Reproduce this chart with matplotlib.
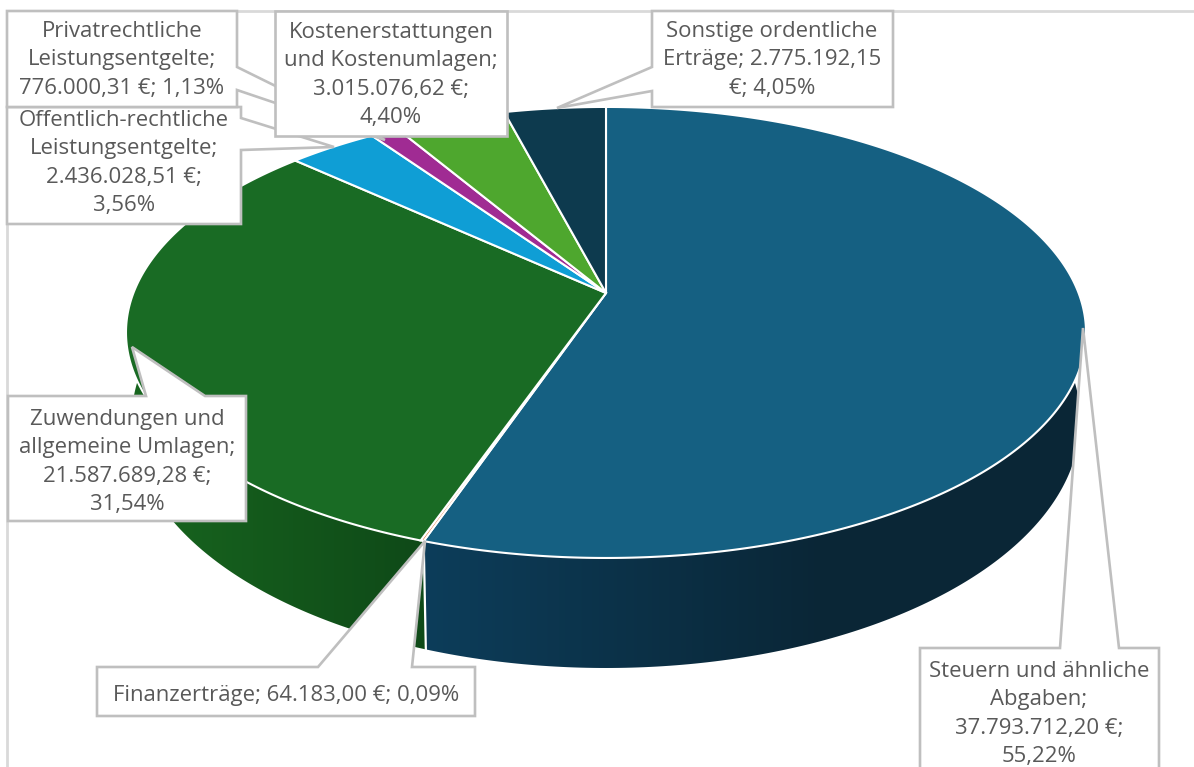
import numpy as np
import matplotlib
matplotlib.use("Agg")
import matplotlib.pyplot as plt
from matplotlib.colors import to_rgb
from matplotlib.patches import Polygon

# Werte aus dem Bild
names = ["Steuern", "Finanzerträge", "Zuwendungen", "Öffentlich-rechtlich",
         "Privatrechtlich", "Kostenerstattungen", "Sonstige"]
euros = [37793712.20, 64183.00, 21587689.28, 2436028.51, 776000.31, 3015076.62, 2775192.15]
top_colors = ["#156082", "#e97132", "#196b24", "#0f9ed5", "#a02b93", "#4ea72e", "#0d3a4e"]
labels = [
    "Steuern und ähnliche\nAbgaben;\n37.793.712,20 €;\n55,22%",
    "Finanzerträge; 64.183,00 €; 0,09%",
    "Zuwendungen und\nallgemeine Umlagen;\n21.587.689,28 €;\n31,54%",
    "Öffentlich-rechtliche\nLeistungsentgelte;\n2.436.028,51 €;\n3,56%",
    "Privatrechtliche\nLeistungsentgelte;\n776.000,31 €; 1,13%",
    "Kostenerstattungen\nund Kostenumlagen;\n3.015.076,62 €;\n4,40%",
    "Sonstige ordentliche\nErträge; 2.775.192,15\n€; 4,05%",
]

plt.rcParams["font.family"] = ["Open Sans", "DejaVu Sans"]
TEXT = "#595959"
LINE = "#bfbfbf"

fig = plt.figure(figsize=(11.94, 7.67), dpi=100)
ax = fig.add_axes([0, 0, 1, 1])

# perspektive der kreisscheibe
K = 0.175
CX = 606


def rim(theta, y0, a, b):
    u = np.sin(theta)
    v = np.cos(theta)
    w = 1 + K * v
    return CX + a * u / w, y0 - b * v / w


def top_rim(theta):
    return rim(theta, 293, 472.6, 218.6)


def bottom_rim(theta):
    return rim(theta, 376.6, 467, 240.4)


def gradient(c1, c2, x1, x2):
    # farbverlauf in x-richtung, links und rechts konstant
    t = np.clip((np.arange(1194) - x1) / (x2 - x1), 0, 1)[:, None]
    c1, c2 = np.array(to_rgb(c1)), np.array(to_rgb(c2))
    return (c1 + (c2 - c1) * t)[None, :, :]


shares = np.array(euros) / sum(euros)
edges = np.concatenate([[0], np.cumsum(shares)]) * 2 * np.pi

# seitenwand, nur der vordere teil ist zu sehen
walls = [
    (np.radians(70), edges[1], gradient("#0d3d5a", "#0a2636", 425, 825)),
    (edges[1], np.radians(290), gradient("#18661f", "#0f4a18", 130, 415)),
]
for a0, a1, img in walls:
    ts = np.linspace(a0, a1, 200)
    xt, yt = top_rim(ts)
    xb, yb = bottom_rim(ts)
    outline = Polygon(np.c_[np.r_[xt, xb[::-1]], np.r_[yt, yb[::-1]]], closed=True,
                      facecolor="none", edgecolor="none", transform=ax.transData)
    ax.add_patch(outline)
    im = ax.imshow(img, extent=(0, 1194, 767, 0), aspect="auto", zorder=2)
    im.set_clip_path(outline)

ax.set_xlim(0, 1194)
ax.set_ylim(767, 0)
ax.axis("off")

# weisse kante zwischen den waenden
xa, ya = top_rim(edges[1])
xb, yb = bottom_rim(edges[1])
ax.plot([xa, xb], [ya, yb], color="white", lw=1.6, zorder=3)

# deckflaeche
for i in range(len(names)):
    ts = np.linspace(edges[i], edges[i + 1], max(3, int((edges[i + 1] - edges[i]) * 150)))
    xs, ys = top_rim(ts)
    ax.fill(np.r_[CX, xs], np.r_[293, ys], facecolor=top_colors[i], edgecolor="white",
            lw=1.5, joinstyle="miter", zorder=4)

# rahmen des diagramms
ax.plot([6.5, 6.5, 1194], [767, 10.5, 10.5], color="#d9d9d9", lw=2, zorder=5)

# beschriftungen mit zeiger: box, dann zeigerpunkte im uhrzeigersinn
boxes = {
    0: (920, 648, 1159, 780),
    1: (97, 667, 475, 716),
    2: (8, 396, 246, 521),
    3: (7, 107, 241, 224),
    4: (7, 11, 237, 107),
    5: (275, 11, 507, 136),
    6: (652, 11, 893, 107),
}
pointers = {
    0: ("top", [(1060, 648), (1083, 328), (1119, 648)]),
    1: ("top", [(318, 667), (425, 541), (412, 667)]),
    2: ("top", [(146, 396), (132, 347), (205, 396)]),
    3: ("right", [(241, 118), (334, 147), (241, 150)]),
    4: ("right", [(237, 67), (385, 140), (237, 90)]),
    6: ("left", [(652, 91), (557, 108), (652, 67)]),
}
text_pos = {0: (1039, 714), 1: (286, 696), 2: (127, 462), 3: (124, 163),
            4: (122, 60), 5: (391, 75), 6: (772, 60)}

for z, i in enumerate([0, 1, 2, 6, 3, 4, 5]):
    x0, y0, x1, y1 = boxes[i]
    top = [(x0, y0)]
    right = [(x1, y0)]
    bottom = [(x1, y1), (x0, y1)]
    left = []
    if i in pointers:
        side, pts = pointers[i]
        if side == "top":
            top += pts
        elif side == "right":
            right += pts
        else:
            left += pts
    poly = top + right + bottom + left
    ax.fill([p[0] for p in poly], [p[1] for p in poly], facecolor="white", edgecolor=LINE,
            lw=1.9, joinstyle="miter", zorder=6 + z)
    ax.text(text_pos[i][0], text_pos[i][1], labels[i], ha="center", va="center", color=TEXT,
            fontsize=15.9, linespacing=1.46, zorder=6 + z)

fig.savefig("out.png", dpi=100)
